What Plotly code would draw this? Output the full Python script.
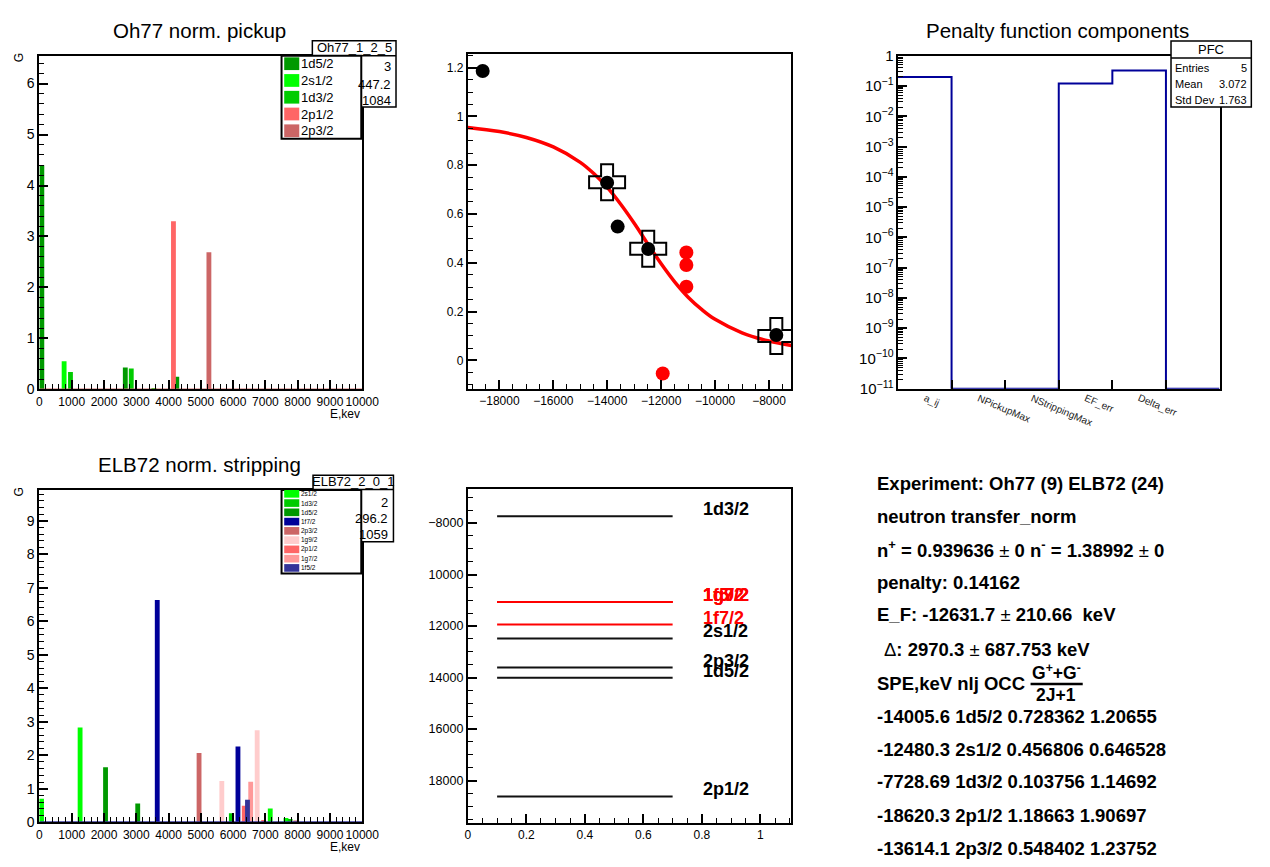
import plotly.graph_objects as go

W, H = 1270, 867
FONT = "Liberation Sans, Arial, Helvetica, sans-serif"


def fx(px):
    return px / W


def fy(py):
    return 1 - py / H


# ---------------- Oh77 norm. pickup (top left) ----------------
oh77_names = ["1d5/2", "2s1/2", "1d3/2", "2p1/2", "2p3/2"]
oh77_colors = ["#009900", "#00ff00", "#00cc00", "#ff6666", "#cc6666"]
oh77_1d52_E = [75, 2660, 4255]
oh77_1d52_G = [4.40, 0.43, 0.25]
oh77_2s12_E = [765, 3547]
oh77_2s12_G = [0.55, 0.02]
oh77_1d32_E = [962, 2845]
oh77_1d32_G = [0.34, 0.41]
oh77_2p12_E = [4152]
oh77_2p12_G = [3.30]
oh77_2p32_E = [5250]
oh77_2p32_G = [2.69]
oh77_E = [oh77_1d52_E, oh77_2s12_E, oh77_1d32_E, oh77_2p12_E, oh77_2p32_E]
oh77_G = [oh77_1d52_G, oh77_2s12_G, oh77_1d32_G, oh77_2p12_G, oh77_2p32_G]
oh77_stats_title = "Oh77_1_2_5"
oh77_stats_values = ["3", "447.2", "1084"]

# ---------------- ELB72 norm. stripping (bottom left) ----------------
elb_names = ["2s1/2", "1d3/2", "1d5/2", "1f7/2", "2p3/2", "1g9/2", "2p1/2", "1g7/2", "1f5/2"]
elb_colors = ["#00ff00", "#00cc00", "#009900", "#000099", "#cc6666",
              "#ffcccc", "#ff6666", "#ff9999", "#333399"]
elb_2s12_E = [65, 1260, 7150, 7637]
elb_2s12_G = [0.70, 2.83, 0.41, 0.13]
elb_1d32_E = [5945, 7765]
elb_1d32_G = [0.27, 0.10]
elb_1d52_E = [2048, 3045]
elb_1d52_G = [1.64, 0.56]
elb_1f72_E = [3650, 6150]
elb_1f72_G = [6.64, 2.26]
elb_2p32_E = [4945, 7940]
elb_2p32_G = [2.07, 0.05]
elb_1g92_E = [5650, 6745]
elb_1g92_G = [1.23, 2.75]
elb_2p12_E = [6345, 6945]
elb_2p12_G = [0.49, 0.07]
elb_1g72_E = [6545]
elb_1g72_G = [1.21]
elb_1f52_E = [6445]
elb_1f52_G = [0.67]
elb_E = [elb_2s12_E, elb_1d32_E, elb_1d52_E, elb_1f72_E, elb_2p32_E,
         elb_1g92_E, elb_2p12_E, elb_1g72_E, elb_1f52_E]
elb_G = [elb_2s12_G, elb_1d32_G, elb_1d52_G, elb_1f72_G, elb_2p32_G,
         elb_1g92_G, elb_2p12_G, elb_1g72_G, elb_1f52_G]
elb_stats_title = "ELB72_2_0_1"
elb_stats_values = ["2", "296.2", "1059"]

# ---------------- occupancy vs SPE (top middle) ----------------
spe_names = ["1d5/2", "2s1/2", "1d3/2", "2p1/2", "2p3/2"]
spe_E = [-14005.6, -12480.3, -7728.69, -18620.3, -13614.1]
spe_occ = [0.728362, 0.456806, 0.103756, 1.18663, 0.548402]
spe_norm = [1.20655, 0.646528, 1.14692, 1.90697, 1.23752]
cross_E = [-14005.6, -12480.3, -7728.69]
cross_occ = [0.730, 0.458, 0.100]
red_E = [-11066, -11066, -11066, -11942]
red_occ = [0.442, 0.391, 0.302, -0.054]
curve_E = [-19170, -18000, -17000, -16000, -15000, -14500, -14000, -13500, -13000,
           -12500, -12000, -11500, -11000, -10500, -10000, -9000, -8000, -7170]
curve_v = [0.955, 0.938, 0.914, 0.875, 0.812, 0.766, 0.709, 0.640, 0.562,
           0.478, 0.396, 0.322, 0.259, 0.209, 0.168, 0.113, 0.079, 0.061]

# ---------------- Penalty function components (top right) ----------------
pfc_labels = ["a_ij", "NPickupMax", "NStrippingMax", "EF_err", "Delta_err", ""]
pfc_values = [0.2, 0.0, 0.0, 0.121, 0.327, 0.0]
pfc_floor = 1e-11
pfc_stats_labels = ["Entries", "Mean", "Std Dev"]
pfc_stats_values = ["5", "3.072", "1.763"]

# ---------------- level scheme (bottom middle) ----------------
lvl_black_names = spe_names
lvl_black_E = spe_E
lvl_red_names = ["1g9/2", "1f5/2", "1g7/2", "1f7/2"]
lvl_red_E = [-11066, -11066, -11066, -11942]
lvl_x = [0.1, 0.7]
lvl_label_x = 0.8
bm_tickvals = [-8000, -10000, -12000, -14000, -16000, -18000]
bm_ticktext = ["\u22128000", "10000", "12000", "14000", "16000", "18000"]

# ---------------- text panel (bottom right) ----------------
info_lines = [
    "<b>Experiment: Oh77 (9) ELB72 (24)</b>",
    "<b>neutron transfer_norm</b>",
    "<b>n<sup>+</sup> = 0.939636 </b>\u00b1<b> 0 n<sup>-</sup> = 1.38992 </b>\u00b1<b> 0</b>",
    "<b>penalty: 0.14162</b>",
    "<b>E_F: -12631.7 </b>\u00b1<b> 210.66  keV</b>",
]
delta_line = "\u0394<b>: 2970.3 </b>\u00b1<b> 687.753 keV</b>"
spe_header = "<b>SPE,keV nlj OCC</b>"
frac_num = "<b>G<sup>+</sup>+G<sup>-</sup></b>"
frac_den = "<b>2J+1</b>"

# ======================================================================
fig = go.Figure()


def axis(domain, rng, anchor, dtick=None, minor_dtick=None, fsize=12, **kw):
    d = dict(domain=domain, range=rng, anchor=anchor, showline=True, linecolor="black",
             linewidth=2, mirror=True, ticks="inside", tickcolor="black", tickwidth=1.5,
             ticklen=9, showgrid=False, zeroline=False, fixedrange=True, tickangle=0,
             tickfont=dict(family=FONT, size=fsize, color="black"))
    if dtick is not None:
        d["dtick"] = dtick
    if minor_dtick is not None:
        d["minor"] = dict(ticks="inside", ticklen=5, tickwidth=1.2, tickcolor="black",
                          dtick=minor_dtick, showgrid=False)
    d.update(kw)
    return d


BAR_W = 150

# top-left bars
for E, G, c in zip(oh77_E, oh77_G, oh77_colors):
    fig.add_trace(go.Bar(x=E, y=G, width=BAR_W, marker=dict(color=c, line=dict(width=0)),
                         xaxis="x", yaxis="y"))
fig.add_trace(go.Scatter(x=[0, 10000], y=[0, 0], mode="lines",
                         line=dict(color=oh77_colors[-1], width=2), xaxis="x", yaxis="y"))

# bottom-left bars
for E, G, c in zip(elb_E, elb_G, elb_colors):
    fig.add_trace(go.Bar(x=E, y=G, width=BAR_W, marker=dict(color=c, line=dict(width=0)),
                         xaxis="x4", yaxis="y4"))
fig.add_trace(go.Scatter(x=[0, 10000], y=[0, 0], mode="lines",
                         line=dict(color=elb_colors[-1], width=2), xaxis="x4", yaxis="y4"))

# top-middle
fig.add_trace(go.Scatter(x=curve_E, y=curve_v, mode="lines", line=dict(color="red", width=3.5, shape="spline"),
                         xaxis="x2", yaxis="y2"))
fig.add_trace(go.Scatter(x=cross_E, y=cross_occ, mode="markers",
                         marker=dict(symbol="cross-open", size=30, color="black", line=dict(width=2, color="black")),
                         xaxis="x2", yaxis="y2"))
fig.add_trace(go.Scatter(x=spe_E, y=spe_occ, mode="markers",
                         marker=dict(symbol="circle", size=14, color="black"), xaxis="x2", yaxis="y2"))
fig.add_trace(go.Scatter(x=red_E, y=red_occ, mode="markers",
                         marker=dict(symbol="circle", size=14, color="red"), xaxis="x2", yaxis="y2"))

# top-right step histogram
sx, sy = [], []
for i, v in enumerate(pfc_values):
    sx += [i, i + 1]
    sy += [max(v, pfc_floor)] * 2
fig.add_trace(go.Scatter(x=sx, y=sy, mode="lines", line=dict(color="#000099", width=2),
                         xaxis="x3", yaxis="y3"))

# bottom-middle levels
for E in lvl_black_E:
    fig.add_trace(go.Scatter(x=lvl_x, y=[E, E], mode="lines", line=dict(color="#111111", width=2),
                             xaxis="x5", yaxis="y5"))
for E in lvl_red_E:
    fig.add_trace(go.Scatter(x=lvl_x, y=[E, E], mode="lines", line=dict(color="#ff0000", width=2),
                             xaxis="x5", yaxis="y5"))

annotations = []
shapes = []


def txt(x, y, text, size=13, xanchor="center", yanchor="middle", color="black", **kw):
    a = dict(x=fx(x), y=fy(y), xref="paper", yref="paper", text=text, showarrow=False,
             xanchor=xanchor, yanchor=yanchor, font=dict(family=FONT, size=size, color=color),
             borderpad=0)
    a.update(kw)
    annotations.append(a)


def rect(x0, y0, x1, y1, fill="white", lw=1.5, color="black"):
    shapes.append(dict(type="rect", xref="paper", yref="paper", x0=fx(x0), x1=fx(x1),
                       y0=fy(y1), y1=fy(y0), fillcolor=fill,
                       line=dict(color=color, width=lw), layer="above"))


def hline(x0, x1, y, lw=1.5):
    shapes.append(dict(type="line", xref="paper", yref="paper", x0=fx(x0), x1=fx(x1),
                       y0=fy(y), y1=fy(y), line=dict(color="black", width=lw), layer="above"))


# level labels (data coords)
for name, E in zip(lvl_black_names, lvl_black_E):
    annotations.append(dict(x=lvl_label_x, y=E, xref="x5", yref="y5", text="<b>%s</b>" % name,
                            showarrow=False, xanchor="left", yanchor="bottom", yshift=-4, borderpad=0,
                            font=dict(family=FONT, size=18, color="black")))
for name, E in zip(lvl_red_names, lvl_red_E):
    annotations.append(dict(x=lvl_label_x, y=E, xref="x5", yref="y5", text="<b>%s</b>" % name,
                            showarrow=False, xanchor="left", yanchor="bottom", yshift=-4, borderpad=0,
                            font=dict(family=FONT, size=18, color="red")))

# titles
txt(200, 21.7, "Oh77 norm. pickup", size=20.5)
txt(200, 465, "ELB72 norm. stripping", size=20.5)
txt(1071, 21.7, "Penalty function components", size=20.5)

# axis titles
txt(16.5, 50, "G", size=12, textangle=-90)
txt(16.5, 493, "G", size=12, textangle=-90)
txt(364, 413, "E,kev", size=12, xanchor="right")
txt(364, 855, "E,kev", size=12, xanchor="right")

# PFC category labels (rotated)
for i, lab in enumerate(pfc_labels):
    if lab:
        annotations.append(dict(x=i + 0.5, y=fy(389.5), xref="x3", yref="paper", text=lab,
                                showarrow=False, xanchor="left", yanchor="top", xshift=-3.5,
                                textangle=23, borderpad=0,
                                font=dict(family=FONT, size=10, color="#222222")))

# stats box top-left
rect(314.3, 32.3, 399.3, 100, lw=1.5)
hline(314.3, 399.3, 47.7)
txt(356.8, 39.3, oh77_stats_title, size=13)
for v, yy in zip(oh77_stats_values, [58.3, 76.7, 93.3]):
    txt(395, yy, v, size=13, xanchor="right")
# legend top-left
rect(283, 47.7, 364, 132.3, lw=2)
for k, (n, c) in enumerate(zip(oh77_names, oh77_colors)):
    yc = 55.8 + 17.1 * k
    rect(285.7, yc - 6.5, 301, yc + 6.5, fill=c, lw=0, color=c)
    txt(302, yc, n, size=13, xanchor="left")

# stats box bottom-left
rect(315, 475.7, 396.7, 543.3, lw=1.5)
hline(315, 396.7, 490)
txt(356, 482.3, elb_stats_title, size=13)
for v, yy in zip(elb_stats_values, [503.3, 520, 535.7]):
    txt(392, yy, v, size=13, xanchor="right")
# legend bottom-left
rect(283, 490.7, 364, 575.7, lw=2)
for k, (n, c) in enumerate(zip(elb_names, elb_colors)):
    yc = 494.5 + 9.45 * k
    rect(285.7, yc - 3.9, 301, yc + 3.9, fill=c, lw=0, color=c)
    txt(302, yc, n, size=6.5, xanchor="left")

# PFC stats box
rect(1186.7, 32.7, 1268.3, 100, lw=1.5)
hline(1186.7, 1268.3, 50)
txt(1227.5, 41.3, "PFC", size=13)
for lab, v, yy in zip(pfc_stats_labels, pfc_stats_values, [60, 76.7, 93]):
    txt(1190, yy, lab, size=11, xanchor="left")
    txt(1265, yy, v, size=11, xanchor="right")

# info text panel
info_y = [484, 518, 550.7, 585, 618]
for line, yy in zip(info_lines, info_y):
    txt(886.7, yy, line, size=18.5, xanchor="left")
txt(894, 653, delta_line, size=18.5, xanchor="left")
txt(886.7, 688, spe_header, size=18.5, xanchor="left")
txt(1070, 676.5, frac_num, size=17.5)
hline(1044, 1097, 688.5, lw=2.5)
txt(1070, 699.5, frac_den, size=17.5)
row_y = [721.7, 755, 788, 822.7, 856]
for E, n, o, g, yy in zip(spe_E, spe_names, spe_occ, spe_norm, row_y):
    txt(886.7, yy, "<b>%s %s %s %s</b>" % (f"{E:g}", n, f"{o:g}", f"{g:g}"), size=18.5, xanchor="left")

fig.update_layout(
    width=W, height=H, margin=dict(l=0, r=0, t=0, b=0), autosize=False,
    paper_bgcolor="white", plot_bgcolor="white", showlegend=False, barmode="overlay",
    font=dict(family=FONT, color="black"),
    xaxis=axis([fx(37), fx(365)], [0, 10000], "y", dtick=1000, minor_dtick=200, fsize=12, tick0=0, tickformat="d"),
    yaxis=axis([fy(388), fy(48)], [0, 6.54], "x", dtick=1, minor_dtick=0.2, fsize=14),
    xaxis2=axis([fx(472.3), fx(801)], [-19170, -7170], "y2", dtick=2000, minor_dtick=500, fsize=12, tick0=0,
                tickformat="d"),
    yaxis2=axis([fy(387.7), fy(45.7)], [-0.118, 1.257], "x2", dtick=0.2, minor_dtick=0.05, fsize=12, tick0=0),
    xaxis3=axis([fx(909.3), fx(1236)], [0, 6], "y3", showticklabels=False, tickvals=[1, 2, 3, 4, 5]),
    yaxis3=axis([fy(387.3), fy(47.7)], [-11, 0], "x3", type="log", dtick=1, minor_dtick="D1",
                exponentformat="power", fsize=12),
    xaxis4=axis([fx(37), fx(365)], [0, 10000], "y4", dtick=1000, minor_dtick=200, fsize=12, tick0=0, tickformat="d"),
    yaxis4=axis([fy(829.5), fy(490.7)], [0, 9.92], "x4", dtick=1, minor_dtick=0.2, fsize=14),
    xaxis5=axis([fx(472.3), fx(801)], [0, 1.106], "y5", dtick=0.2, minor_dtick=0.05, fsize=12, tick0=0),
    yaxis5=axis([fy(830), fy(490)], [-19640, -6690], "x5", tickvals=bm_tickvals, ticktext=bm_ticktext,
                minor_dtick=500, fsize=12.5),
    annotations=annotations,
    shapes=shapes,
)

fig.write_html(
    "out.html",
    config={"displayModeBar": False, "responsive": False},
    post_script=(
        "document.documentElement.style.margin='0px';"
        "document.body.style.margin='0px';"
        "document.body.style.padding='0px';"
        "document.documentElement.style.overflow='hidden';"
        "document.body.style.overflow='hidden';"
    ),
)
